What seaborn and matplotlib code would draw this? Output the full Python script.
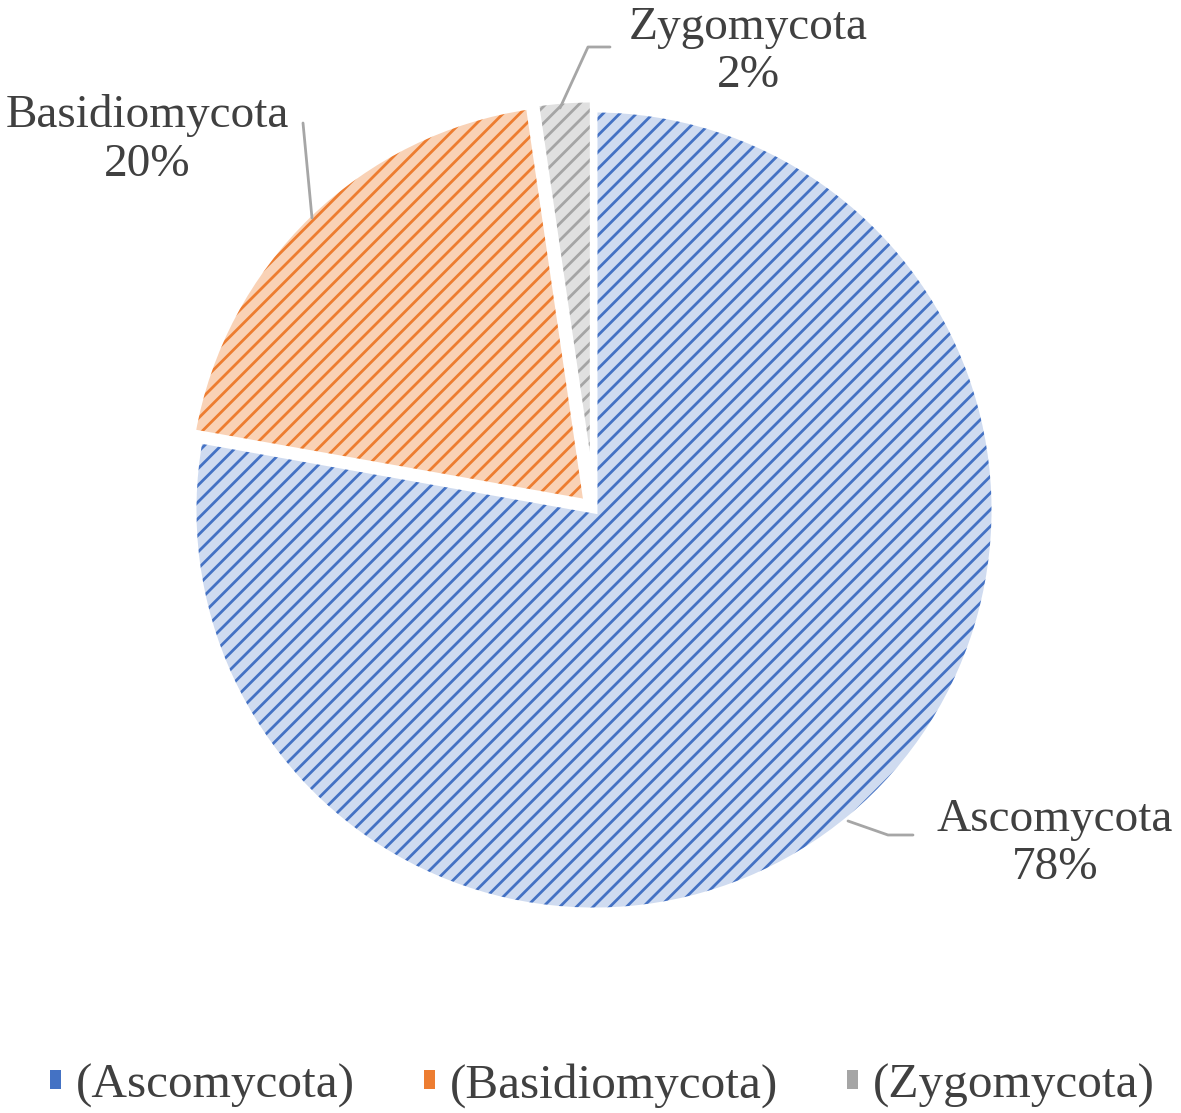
import seaborn as sns
import matplotlib.pyplot as plt
from matplotlib.patches import Patch

# data
phyla = ['Ascomycota', 'Basidiomycota', 'Zygomycota']
shares = [77.8, 19.9, 2.3]
pct_labels = ['78%', '20%', '2%']
legend_labels = ['(Ascomycota)', '(Basidiomycota)', '(Zygomycota)']

sns.set_theme(style='white')
plt.rcParams['font.family'] = ['Liberation Serif', 'DejaVu Serif']

hatch_cols = ['#4472C4', '#ED7D31', '#A5A5A5']
face_cols = ['#cfdbf0', '#f9d2b6', '#e0e0e0']
txt_col = '#404040'
explode = [0, 0.025, 0.025]

fig = plt.figure(figsize=(11.81, 11.13), dpi=100)
ax = fig.add_axes([0, 0, 1, 1])
plt.rcParams['hatch.linewidth'] = 2.0

# base colour
ax.pie(shares, colors=face_cols, startangle=90, counterclock=False,
       explode=explode, wedgeprops=dict(linewidth=0))
# hatch layer
wedges, _ = ax.pie(shares, colors=['none'] * 3, startangle=90, counterclock=False,
                   explode=explode)
for w, c in zip(wedges, hatch_cols):
    w.set_facecolor('none')
    w.set_edgecolor(c)
    w.set_linewidth(0)
    w.set_hatch('//')
# white gaps
ax.pie(shares, colors=['none'] * 3, startangle=90, counterclock=False,
       explode=explode, wedgeprops=dict(edgecolor='white', linewidth=5))

# pixel -> data helper (radius 400 px, centre at 594,510)
def px(x, y):
    return ((x - 594) / 401, (510 - y) / 401)

ax.set_aspect('auto')
ax.set_xlim(-594 / 401, (1181 - 594) / 401)
ax.set_ylim(-(1113 - 510) / 401, 510 / 401)
ax.axis('off')

# data labels with leader lines
label_pos = [px(1055, 844), px(147, 140), px(748, 52)]
leaders = [[px(848, 821), px(888, 835), px(913, 835)],
           [px(312, 218), px(303, 123)],
           [px(560, 108), px(588, 47), px(610, 47)]]
for name, pct, pos, pts in zip(phyla, pct_labels, label_pos, leaders):
    ax.text(pos[0], pos[1], f'{name}\n{pct}', ha='center', va='center',
            fontsize=34, color=txt_col, linespacing=1.18)
    xs, ys = zip(*pts)
    ax.plot(xs, ys, color='#a6a6a6', lw=2)

handles = [Patch(facecolor=c, edgecolor='none') for c in hatch_cols]
fig.legend(handles, legend_labels, loc='lower center', bbox_to_anchor=(0.51, -0.035),
           ncol=3, frameon=False, fontsize=35.5, labelcolor=txt_col,
           handlelength=0.22, handleheight=0.22, handletextpad=0.3,
           columnspacing=1.4)

fig.savefig('out.png', dpi=100)
